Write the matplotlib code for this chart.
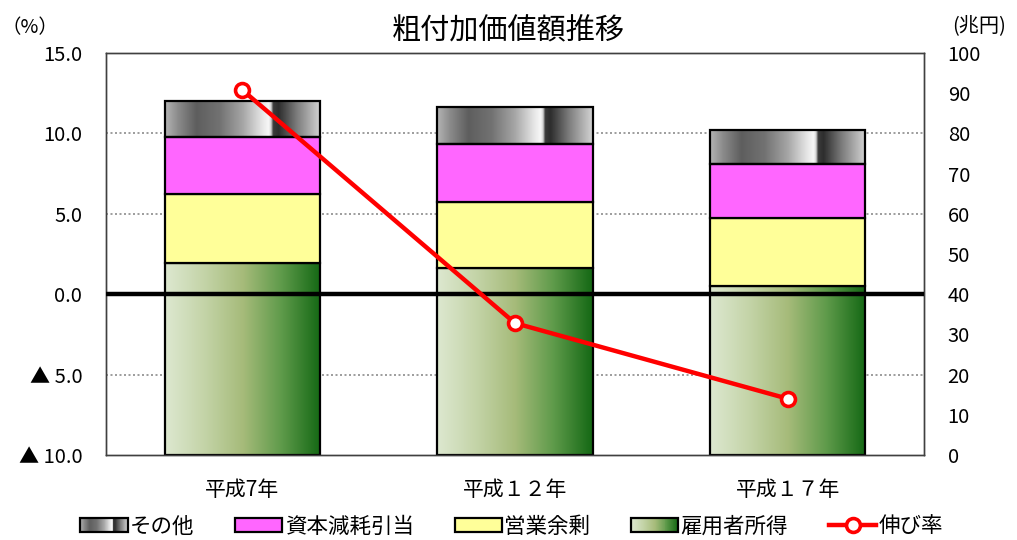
import numpy as np
import matplotlib
matplotlib.use("Agg")
import matplotlib.pyplot as plt
from matplotlib.colors import LinearSegmentedColormap
from matplotlib.patches import Rectangle, Patch
from matplotlib.lines import Line2D
from matplotlib.legend_handler import HandlerBase
from matplotlib.ticker import FuncFormatter, MultipleLocator

plt.rcParams['font.family'] = ['Noto Sans CJK JP', 'DejaVu Sans']

# --- data -------------------------------------------------------------
years = ["平成7年", "平成１２年", "平成１７年"]
employee_income = [47.8, 46.4, 42.0]     # 雇用者所得 (兆円)
operating_surplus = [17.0, 16.6, 16.9]   # 営業余剰 (兆円)
depreciation = [14.3, 14.3, 13.5]        # 資本減耗引当 (兆円)
other = [8.9, 9.3, 8.4]                  # その他 (兆円)
growth_rate = [12.7, -1.8, -6.5]         # 伸び率 (%)

pct_ticks = [15.0, 10.0, 5.0, 0.0, -5.0, -10.0]
pct_lim = (-10.0, 15.0)
yen_lim = (0, 100)

# --- colours ----------------------------------------------------------
gray_cmap = LinearSegmentedColormap.from_list("metal", [
    (0.00, "#b4b4b4"), (0.08, "#8c8c8c"), (0.20, "#5e5e5e"), (0.35, "#727272"),
    (0.50, "#a6a6a6"), (0.62, "#e4e4e4"), (0.665, "#f8f8f8"), (0.68, "#d8d8d8"),
    (0.695, "#3a3a3a"), (0.73, "#2e2e2e"), (0.85, "#7e7e7e"), (1.00, "#d4d4d4")])
green_cmap = LinearSegmentedColormap.from_list("green", [
    (0.00, "#dde8d0"), (0.25, "#c4d4a8"), (0.50, "#a6bb7a"),
    (0.75, "#5e9a4a"), (1.00, "#146814")])
pink = "#ff66ff"
yellow = "#ffff99"
red = "#ff0000"

fig = plt.figure(figsize=(10.17, 5.40), dpi=100)
ax = fig.add_axes([0.1042, 0.1574, 0.8044, 0.7445])   # bars, 兆円 scale
ax2 = ax.twinx()                                       # line, % scale

x = np.arange(len(years))
width = 0.57

ax.set_xlim(-0.5, len(years) - 0.5)
ax.set_ylim(*yen_lim)
ax2.set_ylim(*pct_lim)


def pct_to_yen(v):
    return yen_lim[0] + (v - pct_lim[0]) / (pct_lim[1] - pct_lim[0]) * (yen_lim[1] - yen_lim[0])


# dotted grid of the % axis, behind the bars
for v in pct_ticks:
    if v not in (0.0, pct_lim[0], pct_lim[1]):
        ax.axhline(pct_to_yen(v), color="#8c8c8c", lw=1.2, ls=(0, (1.2, 1.5)), zorder=1)

bottom = np.zeros(len(years))
segments = [
    (employee_income, green_cmap),
    (operating_surplus, yellow),
    (depreciation, pink),
    (other, gray_cmap),
]
grad = np.linspace(0, 1, 256)[None, :]
for values, fill in segments:
    bars = ax.bar(x, values, width, bottom=bottom, edgecolor="black",
                  linewidth=1.6, zorder=3,
                  color=fill if isinstance(fill, str) else "none")
    if not isinstance(fill, str):
        for rect in bars:
            x0, y0 = rect.get_x(), rect.get_y()
            w, h = rect.get_width(), rect.get_height()
            im = ax.imshow(grad, cmap=fill, extent=[x0, x0 + w, y0, y0 + h],
                           aspect="auto", interpolation="bilinear", zorder=2.5)
            im.set_clip_path(rect)
    bottom += np.array(values)

ax.set_xlim(-0.5, len(years) - 0.5)
ax.set_ylim(*yen_lim)

# zero line and growth-rate line
ax2.axhline(0, color="black", lw=3.2, zorder=4)
ax2.plot(x, growth_rate, color=red, lw=3.2, marker="o", markersize=10,
         markerfacecolor="white", markeredgecolor=red, markeredgewidth=2.6,
         zorder=5, solid_capstyle="round")

# axes: % on the left, 兆円 on the right
ax.yaxis.tick_right()
ax.yaxis.set_label_position("right")
ax2.yaxis.tick_left()
ax.yaxis.set_major_locator(MultipleLocator(10))
ax2.set_yticks(pct_ticks)
ax2.yaxis.set_major_formatter(FuncFormatter(
    lambda v, _: f"▲ {abs(v):.1f}" if v < 0 else f"{v:.1f}"))
ax.yaxis.set_major_formatter(FuncFormatter(lambda v, _: f"{v:.0f}"))

ax.set_xticks(x)
ax.set_xticklabels(years, fontsize=15)
ax.tick_params(axis="x", length=0, pad=17)
ax.tick_params(axis="y", length=0, pad=17, labelsize=14.5)
ax2.tick_params(axis="y", length=0, pad=17, labelsize=14.5)

for a in (ax, ax2):
    for s in a.spines.values():
        s.set_color("#404040")
        s.set_linewidth(1.0)

fig.text(0.5, 0.942, "粗付加価値額推移", ha="center", va="center", fontsize=21)
fig.text(0.029, 0.948, "（%）", ha="center", va="center", fontsize=14)
fig.text(0.963, 0.952, "(兆円)", ha="center", va="center", fontsize=14.5)


# legend with gradient swatches
class GradientHandler(HandlerBase):
    def __init__(self, cmap, n=48):
        super().__init__()
        self.cmap = cmap
        self.n = n

    def create_artists(self, legend, orig_handle, xdescent, ydescent,
                       width, height, fontsize, trans):
        x0, y0 = -xdescent, -ydescent
        arts = []
        step = width / self.n
        for i in range(self.n):
            arts.append(Rectangle((x0 + i * step, y0), step * 1.05, height,
                                  facecolor=self.cmap((i + 0.5) / self.n),
                                  edgecolor="none", transform=trans))
        arts.append(Rectangle((x0, y0), width, height, fill=False,
                              edgecolor="black", linewidth=1.6, transform=trans))
        return arts


h_other = Patch(label="その他")
h_dep = Patch(facecolor=pink, edgecolor="black", linewidth=1.6, label="資本減耗引当")
h_ops = Patch(facecolor=yellow, edgecolor="black", linewidth=1.6, label="営業余剰")
h_emp = Patch(label="雇用者所得")
h_rate = Line2D([], [], color=red, lw=3.2, marker="o", markersize=10,
                markerfacecolor="white", markeredgecolor=red,
                markeredgewidth=2.6, label="伸び率")

fig.legend(handles=[h_other, h_dep, h_ops, h_emp, h_rate],
           handler_map={h_other: GradientHandler(gray_cmap),
                        h_emp: GradientHandler(green_cmap)},
           loc="center", bbox_to_anchor=(0.503, 0.025), ncol=5, frameon=False,
           fontsize=15.5, handlelength=2.2, handleheight=0.65, handletextpad=0.1,
           columnspacing=1.9, borderaxespad=0)

fig.savefig("out.png", dpi=100)
